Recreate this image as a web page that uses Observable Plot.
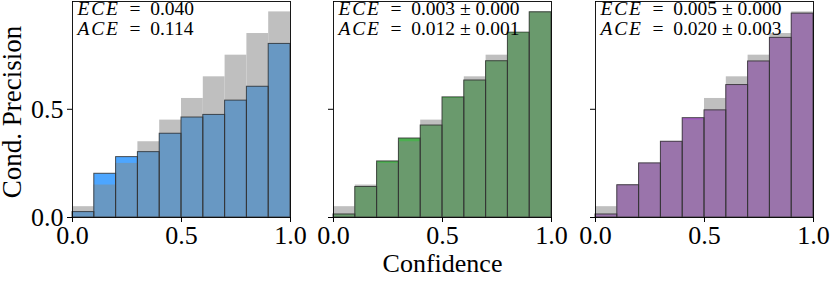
<!DOCTYPE html>
<html>
<head>
<meta charset="utf-8">
<script src="https://cdn.jsdelivr.net/npm/d3@7"></script>
<script src="https://cdn.jsdelivr.net/npm/@observablehq/plot@0.6"></script>
<style>
  html, body { margin: 0; padding: 0; background: #fff; }
  #wrap { position: relative; width: 830px; height: 281px; overflow: hidden; }
  #wrap svg { position: absolute; top: 0; overflow: visible; }
  #ylab { position: absolute; left: 12px; top: 112px; transform: translate(-50%, -50%) rotate(-90deg);
          white-space: nowrap; font-family: 'Liberation Serif', 'Times New Roman', serif; font-size: 27px; line-height: 1; color: #000; }
</style>
</head>
<body>
<div id="wrap"></div>
<script>
// bin edges (confidence)
const binEdges = [0, 0.1, 0.2, 0.3, 0.4, 0.5, 0.6, 0.7, 0.8, 0.9, 1.0];
// ideal (gray) = mean confidence per bin
const ideal = [0.05, 0.15, 0.25, 0.35, 0.45, 0.55, 0.65, 0.75, 0.85, 0.95];
// observed conditional precision per panel
const precisionA = [0.025, 0.202, 0.279, 0.302, 0.387, 0.462, 0.474, 0.540, 0.604, 0.802];
const precisionB = [0.014, 0.141, 0.259, 0.365, 0.425, 0.555, 0.633, 0.722, 0.854, 0.948];
const precisionC = [0.014, 0.149, 0.250, 0.350, 0.459, 0.495, 0.612, 0.721, 0.830, 0.942];
const eceLabels = ["ECE = 0.040", "ECE = 0.003 ± 0.000", "ECE = 0.005 ± 0.000"];
const aceLabels = ["ACE = 0.114", "ACE = 0.012 ± 0.001", "ACE = 0.020 ± 0.003"];
const xTicks = [0, 0.5, 1.0];
const yTicks = [0, 0.5];
const xLabel = "Confidence";
const yLabel = "Cond. Precision";

const series = [precisionA, precisionB, precisionC];
const brightColors = ["#4da6ff", "#4caf50", "#a55cc4"];
const overlapColors = ["#6898c3", "#6a9a6d", "#9a74ab"];
const grayColor = "#bfbfbf";

const font = "'Liberation Serif', 'Times New Roman', serif";
const fmt = d3.format(".1f");

const layout = [
  {left: 0,   marginLeft: 72, width: 310},
  {left: 290, marginLeft: 43, width: 281},
  {left: 552, marginLeft: 43, width: 278}
];

const wrap = document.getElementById("wrap");

series.forEach((vals, p) => {
  const rows = vals.map((v, i) => ({
    x1: binEdges[i], x2: binEdges[i + 1], v, g: ideal[i], m: Math.min(v, ideal[i])
  }));
  const L = layout[p];
  const marks = [
    Plot.rect(rows, {x1: "x1", x2: "x2", y1: 0, y2: "g", fill: grayColor}),
    Plot.rect(rows, {x1: "x1", x2: "x2", y1: 0, y2: "v", fill: brightColors[p]}),
    Plot.rect(rows, {x1: "x1", x2: "x2", y1: 0, y2: "m", fill: overlapColors[p]}),
    Plot.rect(rows, {x1: "x1", x2: "x2", y1: 0, y2: "v", fill: "none", stroke: "#333", strokeWidth: 1, strokeOpacity: 0.85}),
    Plot.frame({stroke: "#000", strokeWidth: 0.9}),
    Plot.axisX({ticks: xTicks, tickFormat: fmt, tickSize: 5, tickPadding: 3, fontSize: 26, label: null}),
    Plot.axisY({ticks: yTicks, tickFormat: p === 0 ? fmt : () => "", tickSize: 5, tickPadding: 4, fontSize: 26, label: null}),
    Plot.text([eceLabels[p]], {frameAnchor: "top-left", textAnchor: "start", lineAnchor: "middle", dx: 5, dy: 7, fontSize: 19.5}),
    Plot.text([aceLabels[p]], {frameAnchor: "top-left", textAnchor: "start", lineAnchor: "middle", dx: 5, dy: 27, fontSize: 19.5})
  ];
  if (p === 1) {
    marks.push(Plot.text([xLabel], {frameAnchor: "bottom", lineAnchor: "bottom", dy: 54, fontSize: 26}));
  }
  const svg = Plot.plot({
    width: L.width,
    height: 281,
    marginLeft: L.marginLeft,
    marginRight: L.width - L.marginLeft - 218,
    marginTop: 1,
    marginBottom: 64,
    x: {domain: [0, 1]},
    y: {domain: [0, 0.998]},
    style: {fontFamily: font, fontSize: "26px", color: "#000", background: "transparent", overflow: "visible"},
    marks
  });
  svg.style.left = L.left + "px";
  // italic math variables, math-style spacing around "="
  d3.select(svg).selectAll("text").each(function() {
    const t = this.textContent;
    const m = /^(ECE|ACE) = (.*)$/.exec(t);
    if (m && this.children.length === 0) {
      this.textContent = "";
      d3.select(this).append("tspan").attr("font-style", "italic").attr("letter-spacing", "1.8px").text(m[1]);
      d3.select(this).append("tspan").text("\u2002=\u2002" + m[2]);
    }
  });
  wrap.appendChild(svg);
});

const yl = document.createElement("div");
yl.id = "ylab";
yl.textContent = yLabel;
wrap.appendChild(yl);
</script>
</body>
</html>
